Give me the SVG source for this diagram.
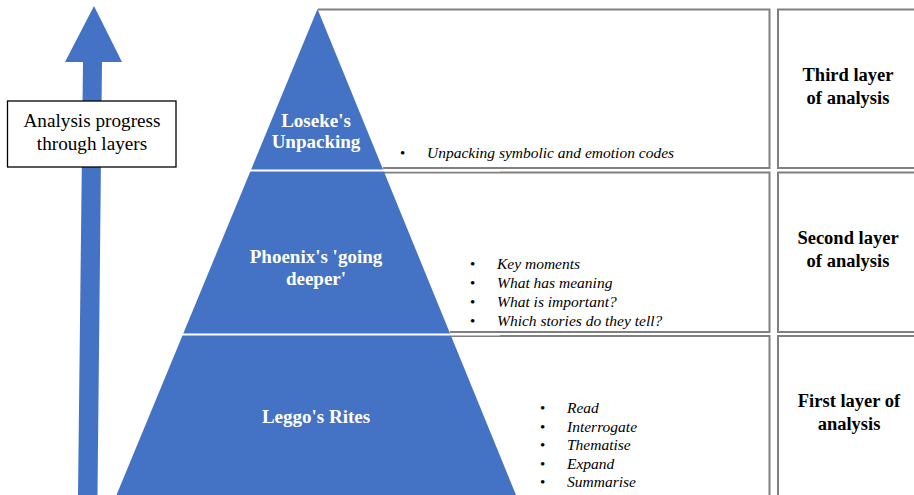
<svg xmlns="http://www.w3.org/2000/svg" width="914" height="495" viewBox="0 0 914 495">
<style>
.cell{fill:none;stroke:#808080;stroke-width:2}
.tier{fill:#4472C4}
.sep{stroke:#ffffff;stroke-width:2.2}
text{font-family:'Liberation Serif','Times New Roman',serif}
.tl{font-weight:bold;font-size:19px;fill:#ffffff;text-anchor:middle}
.rl{font-weight:bold;font-size:18.5px;fill:#000000;text-anchor:middle}
.it{font-style:italic;font-size:15.5px;fill:#000000}
.bu{font-size:15px;fill:#000000}
.lb{font-size:19.2px;fill:#000000;text-anchor:middle}
</style>
<rect width="914" height="495" fill="#ffffff"/>

<g id="table">
  <path class="cell" d="M318 9.5 H769.5 V168 H383"/>
  <path class="cell" d="M383 172.5 H769.5 V332 H450"/>
  <path class="cell" d="M450 336 H769.5 V500"/>
  <path class="cell" d="M920 9.5 H778 V168 H920"/>
  <path class="cell" d="M920 172.5 H778 V332 H920"/>
  <path class="cell" d="M920 336 H778 V500"/>
</g>

<g id="connectors">
  <polygon id="progress-arrow" fill="#4472C4" points="94,6 122,62 102,62 97.5,495 78,495 83,62 65,62"/>
</g>

<g id="pyramid">
  <polygon class="tier" points="317.5,9 116.5,495 516,495"/>
  <line class="sep" x1="150" y1="170.5" x2="500" y2="170.5"/>
  <line class="sep" x1="150" y1="334.5" x2="500" y2="334.5"/>
</g>

<g id="node-loseke">
  <text class="tl" x="316" y="127">Loseke's</text>
  <text class="tl" x="316" y="148">Unpacking</text>
</g>
<g id="node-phoenix">
  <text class="tl" x="316" y="263">Phoenix's 'going</text>
  <text class="tl" x="316" y="285">deeper'</text>
</g>
<g id="node-leggo">
  <text class="tl" x="316" y="423">Leggo's Rites</text>
</g>

<g id="list-third">
  <text class="bu" x="400" y="158">•</text>
  <text class="it" x="427" y="158">Unpacking symbolic and emotion codes</text>
</g>
<g id="list-second">
  <text class="bu" x="470" y="269">•</text>
  <text class="it" x="497" y="269">Key moments</text>
  <text class="bu" x="470" y="288">•</text>
  <text class="it" x="497" y="288">What has meaning</text>
  <text class="bu" x="470" y="306.5">•</text>
  <text class="it" x="497" y="306.5">What is important?</text>
  <text class="bu" x="470" y="325.5">•</text>
  <text class="it" x="497" y="325.5">Which stories do they tell?</text>
</g>
<g id="list-first">
  <text class="bu" x="540" y="413">•</text>
  <text class="it" x="567" y="413">Read</text>
  <text class="bu" x="540" y="431.5">•</text>
  <text class="it" x="567" y="431.5">Interrogate</text>
  <text class="bu" x="540" y="450">•</text>
  <text class="it" x="567" y="450">Thematise</text>
  <text class="bu" x="540" y="468.5">•</text>
  <text class="it" x="567" y="468.5">Expand</text>
  <text class="bu" x="540" y="487">•</text>
  <text class="it" x="567" y="487">Summarise</text>
</g>

<g id="node-third-layer">
  <text class="rl" x="848" y="81">Third layer</text>
  <text class="rl" x="848" y="104">of analysis</text>
</g>
<g id="node-second-layer">
  <text class="rl" x="848" y="244">Second layer</text>
  <text class="rl" x="848" y="267">of analysis</text>
</g>
<g id="node-first-layer">
  <text class="rl" x="849" y="407">First layer of</text>
  <text class="rl" x="849" y="430">analysis</text>
</g>

<g id="node-progress-label">
  <rect x="7.5" y="101" width="168.5" height="66" fill="#ffffff" stroke="#000000" stroke-width="1.3"/>
  <text class="lb" x="92" y="127">Analysis progress</text>
  <text class="lb" x="92" y="149.5">through layers</text>
</g>
</svg>
